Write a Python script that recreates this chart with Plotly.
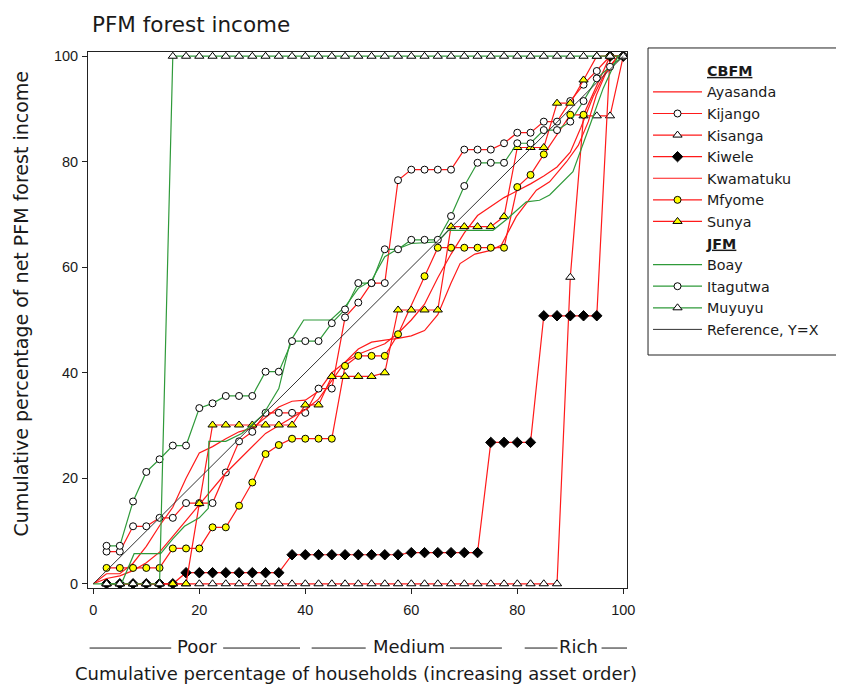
import plotly.graph_objects as go

# ---------------- data ----------------
households = [2.5, 5, 7.5, 10, 12.5, 15, 17.5, 20, 22.5, 25, 27.5, 30, 32.5, 35, 37.5, 40,
              42.5, 45, 47.5, 50, 52.5, 55, 57.5, 60, 62.5, 65, 67.5, 70, 72.5, 75, 77.5,
              80, 82.5, 85, 87.5, 90, 92.5, 95, 97.5, 100]

ayasanda_x = [0, 2.5, 5, 7.5, 10, 12.5, 15, 17.5, 20, 22.5, 25, 27.5, 30, 32.5, 35, 37.5, 40,
              42.5, 45, 47.5, 50, 52.5, 55, 57.5, 60, 62.5, 65, 67.5, 70, 72.5, 75, 77.5, 80,
              82.5, 85, 87.5, 90, 92, 94.3, 96.8, 99, 100]
ayasanda_y = [0, 1.9, 1.9, 3.9, 7.1, 11, 14.5, 20, 24.8, 26, 27.5, 28.8, 29.5, 31.5, 33.5, 34.6,
              34.8, 36.5, 40, 42, 43.5, 44.5, 45.5, 47.5, 50, 53, 58, 62.5, 66.5, 69.8, 71.5,
              73.2, 74.5, 75.8, 77.3, 79, 81.8, 86.5, 92.3, 97.3, 100, 100]

kijango_y = [6.1, 6.1, 10.9, 10.9, 12.5, 12.5, 15.3, 15.3, 15.3, 21.1, 27.0, 28.8, 32.4, 32.4,
             32.4, 32.4, 37.0, 37.0, 50.5, 53.3, 57.0, 57.0, 76.5, 78.5, 78.5, 78.5, 78.5,
             82.3, 82.3, 82.3, 83.5, 85.5, 85.5, 87.6, 87.6, 91.5, 94.6, 97.2, 100, 100]

kisanga_y = [0, 0, 0, 0, 0, 0, 0, 0, 0, 0, 0, 0, 0, 0, 0, 0, 0, 0, 0, 0, 0, 0, 0, 0, 0, 0, 0,
             0, 0, 0, 0, 0, 0, 0, 0, 58.1, 88.7, 88.7, 88.7, 100]

kiwele_y = [0, 0, 0, 0, 0, 0, 2.1, 2.1, 2.1, 2.1, 2.1, 2.1, 2.1, 2.1, 5.5, 5.5, 5.5, 5.5, 5.5,
            5.5, 5.5, 5.5, 5.5, 5.9, 5.9, 5.9, 5.9, 5.9, 5.9, 26.8, 26.8, 26.8, 26.8, 50.8,
            50.8, 50.8, 50.8, 50.8, 100, 100]

kwamatuku_x = [0, 2.5, 5, 7.5, 10, 12.5, 15, 17.5, 20, 22.5, 25, 27.5, 30, 32.5, 35, 37.5, 40,
               42.5, 45, 47.5, 50, 52.5, 55, 57.5, 60, 62.5, 65, 67.5, 69.2, 72, 75, 77, 79.8,
               83.6, 86.1, 89.3, 91.5, 93.4, 94.9, 96.8, 99, 100]
kwamatuku_y = [0, 1, 1.5, 2.5, 4, 6, 9, 12, 15, 18, 21, 23.5, 26, 28.5, 30, 31.5, 33, 35, 38.5,
               42, 44.5, 45.8, 46.2, 46.5, 47, 48, 51, 57, 60.7, 62.5, 63.2, 64.2, 69.6, 74.6,
               76.2, 80, 83.1, 87.6, 92.6, 97, 100, 100]

mfyome_x = [2.5, 5, 7.5, 10, 12.5, 15, 17.5, 20, 22.5, 25, 27.5, 30, 32.5, 35, 37.5, 40, 42.5,
            45, 47.5, 50, 52.5, 55, 57.5, 62.5, 65, 67.5, 70, 72.5, 75, 77.5, 80, 82.5, 85,
            90, 92.5, 97.5, 100]
mfyome_y = [3.0, 3.0, 3.0, 3.0, 3.0, 6.7, 6.7, 6.7, 10.7, 10.7, 14.8, 19.2, 24.6, 26.3, 27.5,
            27.5, 27.5, 27.5, 41.3, 43.2, 43.2, 43.2, 47.3, 58.3, 63.7, 63.7, 63.7, 63.7, 63.7,
            63.7, 75.2, 77.5, 81.4, 88.9, 88.9, 100, 100]

sunya_y = [0, 0, 0, 0, 0, 0, 0, 15.2, 30.1, 30.1, 30.1, 30.1, 30.1, 30.1, 30.1, 33.9, 33.9,
           39.3, 39.3, 39.3, 39.3, 40.0, 51.9, 51.9, 51.9, 51.9, 67.7, 67.7, 67.7, 67.7, 69.6,
           82.7, 82.7, 82.7, 91.1, 91.1, 95.5, 100, 100, 100]

boay_x = [0, 5.3, 7.7, 12.7, 15, 17.2, 20, 21.7, 21.8, 25, 28, 32, 35, 37.2, 39.7, 44.8, 47.5,
          50, 52.5, 55, 57.5, 60, 65, 67, 75.4, 77.9, 81.7, 84.2, 86.1, 90.5, 93.7, 96.2, 99, 100]
boay_y = [0, 0, 5.7, 5.7, 8.5, 10.9, 12.5, 14.3, 27, 27, 28.5, 32, 37, 46, 50, 50, 52.5, 56,
          57.5, 62, 63.5, 64.5, 64.8, 67, 67, 69, 72.4, 72.7, 73.7, 78.1, 86.9, 93.9, 100, 100]

itagutwa_y = [7.2, 7.2, 15.6, 21.2, 23.6, 26.2, 26.2, 33.3, 34.2, 35.6, 35.6, 35.6, 40.2, 40.2,
              46.0, 46.0, 46.0, 49.4, 52.0, 57.0, 57.0, 63.4, 63.4, 65.2, 65.2, 65.2, 69.7,
              75.4, 79.8, 79.8, 79.8, 83.5, 83.5, 86.0, 86.0, 87.6, 91.5, 95.8, 98.0, 100]

muyuyu_y = [0, 0, 0, 0, 0, 100, 100, 100, 100, 100, 100, 100, 100, 100, 100, 100, 100, 100,
            100, 100, 100, 100, 100, 100, 100, 100, 100, 100, 100, 100, 100, 100, 100, 100,
            100, 100, 100, 100, 100, 100]

reference_x = [0, 100]
reference_y = [0, 100]

x_ticks = [0, 20, 40, 60, 80, 100]
y_ticks = [0, 20, 40, 60, 80, 100]

# ---------------- styles ----------------
RED = "#ff1a1a"
GREEN = "#2f9a3a"
TXT = "#1a1a1a"
FONT = "DejaVu Sans"
TICKFONT = "Liberation Sans, Arial"

fig = go.Figure()


def header(name):
    fig.add_trace(go.Scatter(x=[None], y=[None], mode="lines", name=name,
                             line=dict(color="rgba(0,0,0,0)", width=0),
                             hoverinfo="skip"))


def series(name, x, y, color, symbol=None, fill="white", size=7):
    if symbol is None:
        fig.add_trace(go.Scatter(x=x, y=y, mode="lines", name=name,
                                 line=dict(color=color, width=1.2)))
    else:
        fig.add_trace(go.Scatter(x=x, y=y, mode="lines+markers", name=name,
                                 line=dict(color=color, width=1.2),
                                 marker=dict(symbol=symbol, size=size, color=fill,
                                             line=dict(color="black", width=1))))


header("<b><u>CBFM</u></b>")
series("Ayasanda", ayasanda_x, ayasanda_y, RED)
series("Kijango", households, kijango_y, RED, "circle", "white", 7)
series("Kisanga", households, kisanga_y, RED, "triangle-up", "white", 8)
series("Kiwele", households, kiwele_y, RED, "diamond", "black", 8)
series("Kwamatuku", kwamatuku_x, kwamatuku_y, RED)
series("Mfyome", mfyome_x, mfyome_y, RED, "circle", "#ffff00", 7)
series("Sunya", households, sunya_y, RED, "triangle-up", "#ffff00", 8)
header("<b><u>JFM</u></b>")
series("Boay", boay_x, boay_y, GREEN)
series("Itagutwa", households, itagutwa_y, GREEN, "circle", "white", 7)
series("Muyuyu", households, muyuyu_y, GREEN, "triangle-up", "white", 8)
fig.add_trace(go.Scatter(x=reference_x, y=reference_y, mode="lines",
                         name="Reference, Y=X",
                         line=dict(color="#333333", width=1)))

axis_common = dict(showgrid=False, zeroline=False, showline=True, linecolor="#222222",
                   linewidth=1, mirror=True, ticks="outside", ticklen=5,
                   tickcolor="#222222",
                   tickfont=dict(family=TICKFONT, size=14.5, color=TXT))

# page body has an 8px margin, so the figure is 16px smaller than the window
fig.update_layout(
    width=836, height=676,
    margin=dict(l=80, r=217, t=44, b=96),
    paper_bgcolor="white", plot_bgcolor="white",
    showlegend=True,
    legend=dict(x=1.039, y=0.9953, xanchor="left", yanchor="top",
                borderwidth=0, bgcolor="rgba(0,0,0,0)",
                font=dict(family=FONT, size=14.3, color=TXT),
                itemwidth=49, tracegroupgap=0, traceorder="normal"),
    xaxis=dict(range=[-1, 100.7], tickvals=x_ticks, ticklabelstandoff=4, **axis_common),
    yaxis=dict(range=[-0.8, 100.8], tickvals=y_ticks, ticklabelstandoff=1, **axis_common),
)

# legend frame
fig.add_shape(type="rect", xref="paper", yref="paper", x0=1.039, x1=1.3915,
              y0=0.4347, y1=1.0075, line=dict(color="#222222", width=1),
              fillcolor="rgba(0,0,0,0)", layer="below")

annotations = [
    dict(text="PFM forest income", xref="paper", yref="paper", x=0.0037, y=1.0504,
         xanchor="left", yanchor="middle", showarrow=False,
         font=dict(family=FONT, size=21.5, color=TXT)),
    dict(text="Cumulative percentage of net PFM forest income", xref="paper", yref="paper",
         x=-0.1252, y=0.53, textangle=-90, xanchor="center", yanchor="middle",
         showarrow=False, font=dict(family=FONT, size=19, color=TXT)),
    dict(text="Cumulative percentage of households (increasing asset order)", xref="paper",
         yref="paper", x=0.497, y=-0.1586, xanchor="center", yanchor="middle",
         showarrow=False, font=dict(family=FONT, size=18, color=TXT)),
]
group_labels = [("Poor", 19.6), ("Medium", 59.5), ("Rich", 91.6)]
for lab, cx in group_labels:
    annotations.append(dict(text=lab, xref="x", yref="paper", x=cx, y=-0.11,
                            xanchor="center", yanchor="middle", showarrow=False,
                            font=dict(family=FONT, size=18, color=TXT)))
fig.update_layout(annotations=annotations)

dash_segments = [(-0.7, 14.7), (24.5, 39.0), (41.2, 51.4), (67.3, 77.1), (81.4, 87.6),
                 (95.9, 101.8)]
for a, b in dash_segments:
    fig.add_shape(type="line", xref="x", yref="paper", x0=a, x1=b, y0=-0.112, y1=-0.112,
                  line=dict(color=TXT, width=1))

fig.write_html("out.html")
